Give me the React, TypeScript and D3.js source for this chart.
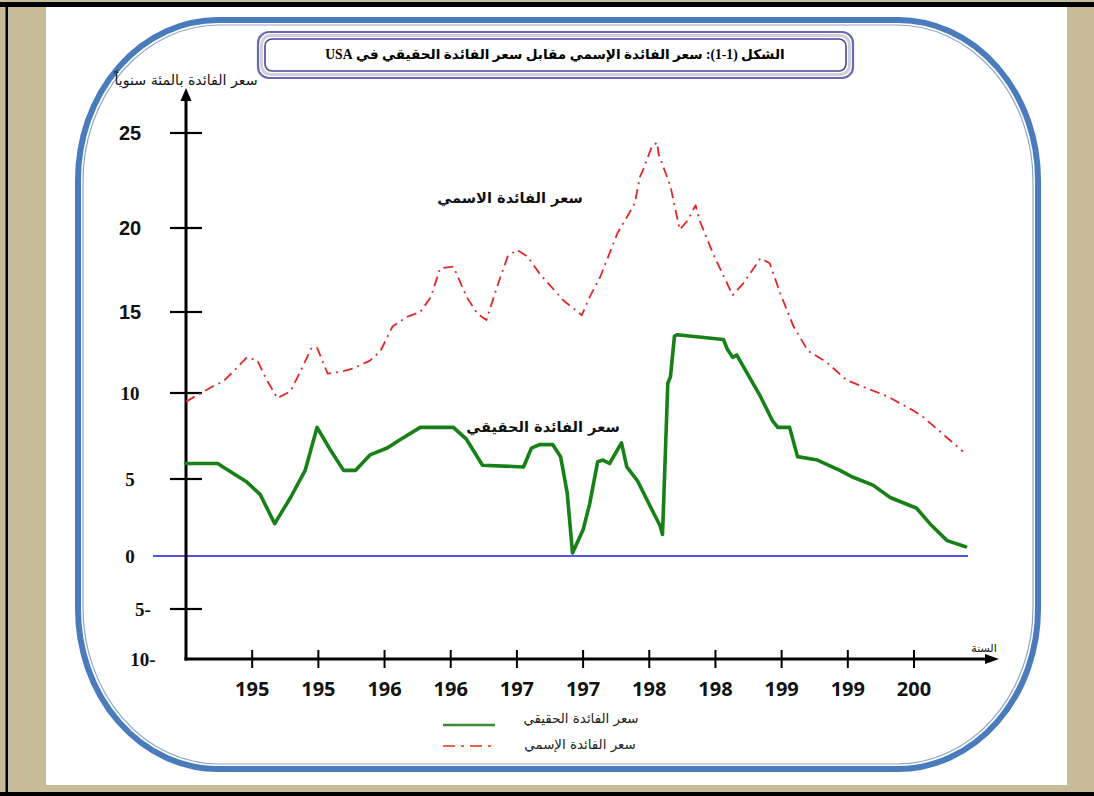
import React from "react";
import * as d3 from "d3";

// ---- data ----
const realYears = [1945.0, 1947.4, 1947.8, 1949.6, 1950.6, 1951.7, 1952.9, 1954.0, 1954.9, 1955.9, 1956.9, 1957.8, 1958.9, 1960.2, 1961.2, 1962.7, 1965.2, 1966.2, 1967.4, 1970.5, 1971.1, 1971.7, 1972.7, 1973.3, 1973.8, 1974.2, 1975.0, 1975.5, 1976.1, 1976.5, 1977.0, 1977.9, 1978.3, 1979.1, 1980.2, 1980.8, 1981.0, 1981.4, 1981.6, 1981.9, 1982.1, 1985.6, 1985.9, 1986.3, 1986.6, 1988.4, 1989.3, 1989.7, 1990.6, 1991.2, 1992.7, 1994.4, 1995.4, 1996.9, 1998.2, 2000.2, 2001.2, 2002.5, 2003.9];
const realValues = [5.9, 5.9, 5.7, 4.8, 4.0, 2.1, 3.8, 5.5, 8.0, 6.7, 5.5, 5.5, 6.4, 6.8, 7.3, 8.0, 8.0, 7.3, 5.8, 5.7, 6.8, 7.0, 7.0, 6.3, 4.1, 0.2, 1.7, 3.4, 6.0, 6.1, 5.9, 7.1, 5.7, 4.9, 3.0, 2.0, 1.4, 10.6, 11.0, 13.5, 13.6, 13.3, 12.7, 12.2, 12.35, 9.8, 8.4, 8.0, 8.0, 6.3, 6.1, 5.5, 5.1, 4.6, 3.8, 3.1, 2.1, 1.0, 0.6];

const nominalYears = [1945.0, 1947.0, 1947.8, 1948.9, 1949.6, 1950.4, 1951.1, 1951.9, 1952.9, 1953.8, 1954.5, 1954.9, 1955.7, 1956.6, 1957.6, 1958.9, 1959.7, 1960.6, 1961.7, 1962.7, 1963.5, 1964.2, 1965.2, 1966.2, 1967.0, 1967.7, 1968.5, 1969.3, 1970.0, 1970.8, 1971.7, 1973.5, 1974.9, 1975.5, 1976.3, 1976.8, 1977.6, 1978.5, 1978.9, 1979.3, 1979.5, 1980.2, 1980.6, 1980.7, 1981.6, 1982.3, 1982.9, 1983.5, 1983.8, 1984.8, 1986.3, 1987.1, 1988.4, 1989.1, 1989.9, 1990.9, 1992.0, 1993.4, 1994.9, 1996.1, 1998.0, 1999.9, 2000.7, 2002.5, 2003.7];
const nominalValues = [9.5, 10.4, 10.7, 11.6, 12.2, 12.0, 10.8, 9.7, 10.1, 11.6, 12.8, 12.8, 11.2, 11.3, 11.5, 12.0, 12.6, 14.1, 14.7, 15.0, 15.9, 17.6, 17.7, 15.9, 14.9, 14.5, 16.5, 18.3, 18.7, 18.3, 17.3, 15.7, 14.8, 15.9, 17.1, 18.1, 19.7, 20.8, 21.3, 22.7, 23.0, 24.3, 24.5, 23.9, 22.2, 19.9, 20.4, 21.2, 20.4, 18.5, 16.0, 16.7, 18.2, 17.9, 16.1, 14.1, 12.6, 11.9, 10.8, 10.4, 9.8, 9.0, 8.6, 7.4, 6.6];

const yTickValues = [25, 20, 15, 10, 5, 0, -5, -10];
const yTickLabels = ["25", "20", "15", "10", "5", "0", "5-", "10-"];
const xTickYears = [1950, 1955, 1960, 1965, 1970, 1975, 1980, 1985, 1990, 1995, 2000];
const xTickLabels = ["195", "195", "196", "196", "197", "197", "198", "198", "199", "199", "200"];

const titleText = "الشكل (1-1): سعر الفائدة الإسمي مقابل سعر الفائدة الحقيقي في USA";
const yAxisTitle = "سعر الفائدة بالمئة سنوياً";
const xAxisTitle = "السنة";
const nominalName = "سعر الفائدة الاسمي";
const realName = "سعر الفائدة الحقيقي";
const legendReal = "سعر الفائدة الحقيقي";
const legendNominal = "سعر الفائدة الإسمي";

export default function App() {
  const W = 1094, H = 796;
  const x = d3.scaleLinear().domain([1945, 2000]).range([186, 914]);
  // hand-drawn axis with uneven spacing: polylinear scale
  const y = d3.scaleLinear()
    .domain([-10, -5, 0, 5, 10, 15, 20, 25])
    .range([659, 609, 556, 479, 393, 312, 228, 133]);

  const lineGen = d3.line<[number, number]>().x(d => x(d[0])).y(d => y(d[1]));
  const realPath = lineGen(realYears.map((yr, i) => [yr, realValues[i]] as [number, number]));
  const nominalPath = lineGen(nominalYears.map((yr, i) => [yr, nominalValues[i]] as [number, number]));

  const axisX0 = x(1945);
  const axisY0 = y(-10);
  const arabic = "'DejaVu Sans', 'Noto Sans', sans-serif";

  return (
    <svg width={W} height={H} viewBox={`0 0 ${W} ${H}`}
      style={{ position: "absolute", left: 0, top: 0, display: "block" }}>
      {/* outer frame */}
      <rect x={0} y={0} width={W} height={H} fill="#c6bc99" />
      <rect x={0} y={2} width={W} height={5} fill="#000" />
      <rect x={5.5} y={2} width={2.5} height={H} fill="#000" />
      <rect x={0} y={792} width={W} height={4} fill="#000" />
      <rect x={46} y={7} width={1021} height={778} fill="#fff" />

      {/* blue rounded frame */}
      <rect x={78} y={20} width={960} height={749} rx={140} ry={160}
        fill="none" stroke="#4a7cbd" strokeWidth={6} />
      <rect x={83} y={25} width={950} height={739} rx={136} ry={156}
        fill="none" stroke="#8aa6c8" strokeWidth={1.2} />

      {/* title box */}
      <rect x={258} y={32} width={595} height={46} rx={11} fill="#fff" stroke="#6a6ab4" strokeWidth={2.2} />
      <rect x={261.5} y={35.5} width={588} height={39} rx={9} fill="none" stroke="#cfcfdc" strokeWidth={3} />
      <rect x={265} y={39} width={581} height={32} rx={7} fill="#fff" stroke="#45459a" strokeWidth={1.6} />
      <text x={555} y={58.5} textAnchor="middle" direction="rtl"
        fontFamily="'Liberation Serif', 'DejaVu Sans', serif" fontWeight="bold" fontSize={13.6} fill="#000">
        {titleText}
      </text>

      {/* y axis title */}
      <text x={186} y={85} textAnchor="middle" direction="rtl" fontFamily={arabic} fontSize={14.2} fill="#111">
        {yAxisTitle}
      </text>

      {/* zero line */}
      <line x1={153} x2={968} y1={y(0)} y2={y(0)} stroke="#1c1cd4" strokeWidth={1.6} />

      {/* axes */}
      <line x1={axisX0} x2={axisX0} y1={axisY0 + 1.5} y2={98} stroke="#000" strokeWidth={3} />
      <path d={`M${axisX0},88 L${axisX0 - 5.5},101 L${axisX0 + 5.5},101 Z`} fill="#000" />
      <line x1={axisX0 - 1.5} x2={988} y1={axisY0} y2={axisY0} stroke="#000" strokeWidth={3} />
      <path d={`M999,${axisY0} L985,${axisY0 - 5} L985,${axisY0 + 5} Z`} fill="#000" />
      <text x={984} y={652} textAnchor="middle" direction="rtl" fontFamily={arabic} fontSize={11} fill="#111">
        {xAxisTitle}
      </text>

      {/* y ticks & labels */}
      {yTickValues.map((v, i) => {
        const yy = y(v);
        const showTick = v !== 0 && v !== -10;
        const sans = v >= 15;
        const lx = v < 0 ? 143 : 130;
        return (
          <g key={"yt" + i}>
            {showTick && <line x1={170} x2={202} y1={yy} y2={yy} stroke="#000" strokeWidth={2.2} />}
            <text x={lx} y={yy + 6.5} textAnchor="middle"
              fontFamily={sans ? "'Liberation Sans', Arial, sans-serif" : "'Liberation Serif', 'Times New Roman', serif"}
              fontWeight="bold" fontSize={sans ? 20 : 19} fill="#111">
              {yTickLabels[i]}
            </text>
          </g>
        );
      })}

      {/* x ticks & labels */}
      {xTickYears.map((yr, i) => (
        <g key={"xt" + i}>
          <line x1={x(yr)} x2={x(yr)} y1={650} y2={668} stroke="#000" strokeWidth={2} />
          <text x={x(yr)} y={696} textAnchor="middle" fontFamily="'Open Sans', 'Liberation Sans', sans-serif"
            fontWeight="bold" fontSize={20} fill="#111">
            {xTickLabels[i]}
          </text>
        </g>
      ))}

      {/* series */}
      <path d={nominalPath || ""} fill="none" stroke="#e02828" strokeWidth={1.8}
        strokeDasharray="10,5,2,5" strokeLinejoin="round" />
      <path d={realPath || ""} fill="none" stroke="#178017" strokeWidth={3.6}
        strokeLinejoin="round" strokeLinecap="round" />

      {/* series labels */}
      <text x={510} y={203} textAnchor="middle" direction="rtl" fontFamily={arabic} fontWeight="bold" fontSize={14.6} fill="#111">
        {nominalName}
      </text>
      <text x={543} y={432} textAnchor="middle" direction="rtl" fontFamily={arabic} fontWeight="bold" fontSize={14.6} fill="#111">
        {realName}
      </text>

      {/* legend */}
      <line x1={443} x2={495} y1={725} y2={725} stroke="#3a8a35" strokeWidth={2.4} />
      <text x={581} y={723} textAnchor="middle" direction="rtl" fontFamily={arabic} fontSize={13.4} fill="#222">
        {legendReal}
      </text>
      <line x1={443} x2={492} y1={746} y2={746} stroke="#e2694a" strokeWidth={2} strokeDasharray="12,6,3,6" />
      <text x={580} y={749} textAnchor="middle" direction="rtl" fontFamily={arabic} fontSize={13.4} fill="#222">
        {legendNominal}
      </text>
    </svg>
  );
}
